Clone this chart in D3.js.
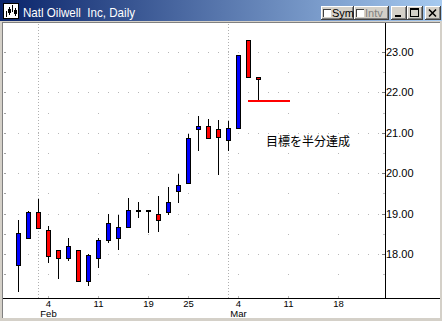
<!DOCTYPE html>
<html><head><meta charset="utf-8">
<script src="https://cdn.jsdelivr.net/npm/d3@7"></script>
<style>html,body{margin:0;padding:0;background:#D4D0C8;overflow:hidden}svg{display:block}</style>
</head><body>
<svg id="c" width="442" height="321"></svg>
<script>
// ---- data ----
const dates = ["2002-01-30","2002-01-31","2002-02-01","2002-02-04","2002-02-05","2002-02-06","2002-02-07","2002-02-08",
  "2002-02-11","2002-02-12","2002-02-13","2002-02-14","2002-02-15","2002-02-19","2002-02-20","2002-02-21","2002-02-22",
  "2002-02-25","2002-02-26","2002-02-27","2002-02-28","2002-03-01","2002-03-04","2002-03-05","2002-03-06"];
const futureDays = ["2002-03-07","2002-03-08","2002-03-11","2002-03-12","2002-03-13","2002-03-14","2002-03-15",
  "2002-03-18","2002-03-19","2002-03-20","2002-03-21","2002-03-22"];
const openP  = [17.74,18.39,19.03,18.59,18.09,17.89,18.09,17.34,17.89,18.34,18.39,18.66,19.08,19.08,18.98,19.03,19.55,19.75,21.09,21.18,21.09,20.81,21.11,23.29,22.37];
const highP  = [18.84,19.06,19.36,18.69,18.09,18.39,18.09,18.00,18.39,18.98,18.97,19.38,19.28,19.10,19.44,19.65,19.98,20.96,21.41,21.33,21.31,21.28,22.92,23.29,22.37];
const lowP   = [17.09,18.39,18.64,17.81,17.41,17.84,17.32,17.24,17.69,18.29,18.12,18.66,18.92,18.54,18.58,18.98,19.28,19.75,20.58,20.86,19.99,20.58,21.11,22.37,21.84];
const closeP = [18.51,19.03,18.64,17.94,17.89,18.21,17.34,17.98,18.34,18.76,18.66,19.08,19.10,19.06,18.83,19.28,19.70,20.86,21.18,20.86,20.89,21.11,22.92,22.37,22.32];
const weekTicks = ["2002-02-04","2002-02-11","2002-02-19","2002-02-25","2002-03-04","2002-03-11","2002-03-18"];
const weekLabels = ["4","11","19","25","4","11","18"];
const monthTicks = ["2002-02-04","2002-03-04"];
const monthLabels = ["Feb","Mar"];
const monthStarts = ["2002-02-01","2002-03-01"];
const yTicks = [18,19,20,21,22,23];
const yHalf = [17.5,18.5,19.5,20.5,21.5,22.5];
const target = {start:"2002-03-05", end:"2002-03-11", price:21.79};
const note = "目標を半分達成";
const title = "Natl Oilwell  Inc, Daily";

// ---- setup ----
const svg = d3.select("#c");
const allDays = dates.concat(futureDays);
const x = d3.scalePoint().domain(allDays).range([18, 378]);
const y = d3.scaleLinear().domain([18, 23]).range([254, 52]);
const PL = 3, PR = 440, PT = 23, PB = 298, AX = 385;
const FONT = "Liberation Sans, Arial, sans-serif";

// window chrome
svg.append("rect").attr("width",442).attr("height",321).attr("fill","#D4D0C8");
const grad = svg.append("defs").append("linearGradient").attr("id","tb");
grad.append("stop").attr("offset","0").attr("stop-color","#0A246A");
grad.append("stop").attr("offset","1").attr("stop-color","#A6CAF0");
svg.append("rect").attr("x",0).attr("y",0).attr("width",442).attr("height",21).attr("fill","url(#tb)");
svg.append("rect").attr("x",PL).attr("y",PT).attr("width",PR-PL).attr("height",318-PT).attr("fill","#fff");
svg.append("rect").attr("x",2).attr("y",22).attr("width",PR-2).attr("height",1).attr("fill","#808080");
svg.append("rect").attr("x",2).attr("y",22).attr("width",1).attr("height",296).attr("fill","#808080");

// title icon
const ic = svg.append("g").attr("shape-rendering","crispEdges");
ic.append("rect").attr("x",3.5).attr("y",3.5).attr("width",15).attr("height",15).attr("fill","#fff").attr("stroke","#000");
[[6,11,17],[9,7,15],[12,5,12],[15,8,16]].forEach(([cx,a,b])=>{
  ic.append("line").attr("x1",cx+0.5).attr("x2",cx+0.5).attr("y1",a).attr("y2",b).attr("stroke","#000").attr("stroke-width",1);
});
ic.append("rect").attr("x",8).attr("y",9).attr("width",3).attr("height",4).attr("fill","#000");
ic.append("rect").attr("x",14).attr("y",10).attr("width",3).attr("height",4).attr("fill","#000");
svg.append("text").attr("x",23).attr("y",16.5).attr("fill","#fff")
  .attr("font-family",FONT).attr("font-size",13)
  .attr("textLength",112).attr("lengthAdjust","spacingAndGlyphs")
  .style("white-space","pre").text(title);

// title buttons
function button(bx, bw){
  const g = svg.append("g").attr("shape-rendering","crispEdges");
  const by = 6, bh = 14;
  g.append("rect").attr("x",bx).attr("y",by).attr("width",bw).attr("height",bh).attr("fill","#D4D0C8");
  g.append("rect").attr("x",bx).attr("y",by).attr("width",bw).attr("height",1).attr("fill","#fff");
  g.append("rect").attr("x",bx).attr("y",by).attr("width",1).attr("height",bh).attr("fill","#fff");
  g.append("rect").attr("x",bx).attr("y",by+bh-1).attr("width",bw).attr("height",1).attr("fill","#404040");
  g.append("rect").attr("x",bx+bw-1).attr("y",by).attr("width",1).attr("height",bh).attr("fill","#404040");
  g.append("rect").attr("x",bx+1).attr("y",by+bh-2).attr("width",bw-2).attr("height",1).attr("fill","#808080");
  g.append("rect").attr("x",bx+bw-2).attr("y",by+1).attr("width",1).attr("height",bh-2).attr("fill","#808080");
  return g;
}
function checkBtn(bx,bw,label,col){
  const g = button(bx,bw);
  g.append("rect").attr("x",bx+2).attr("y",9).attr("width",8).attr("height",8).attr("fill","#fff");
  g.append("rect").attr("x",bx+2).attr("y",9).attr("width",8).attr("height",1).attr("fill","#404040");
  g.append("rect").attr("x",bx+2).attr("y",9).attr("width",1).attr("height",8).attr("fill","#404040");
  g.append("text").attr("x",bx+11).attr("y",17).attr("fill",col)
    .attr("font-family",FONT).attr("font-size",11).text(label);
}
checkBtn(321,33,"Sym","#000");
checkBtn(354,35,"Intv","#808080");
const mn = button(391,16);
mn.append("rect").attr("x",395).attr("y",15).attr("width",6).attr("height",2).attr("fill","#000");
const mx = button(407,16);
mx.append("rect").attr("x",410.5).attr("y",8.5).attr("width",8).attr("height",8).attr("fill","none").attr("stroke","#000");
mx.append("rect").attr("x",411).attr("y",9).attr("width",8).attr("height",1).attr("fill","#000");
const cl = button(425,16);
cl.append("path").attr("d","M429,9.5L436,16.5M436,9.5L429,16.5").attr("stroke","#000").attr("stroke-width",1.6)
  .attr("shape-rendering","auto");

// ---- grid ----
const grid = svg.append("g").attr("shape-rendering","crispEdges").attr("fill","#b8b8b8");
yTicks.forEach(v=>{
  allDays.forEach(d=>{
    grid.append("rect").attr("x",x(d)).attr("y",Math.round(y(v))).attr("width",1).attr("height",1);
  });
});
yHalf.forEach(v=>{
  weekTicks.forEach(d=>{
    grid.append("rect").attr("x",x(d)).attr("y",Math.round(y(v))).attr("width",1).attr("height",1);
  });
});
yTicks.concat(yHalf).forEach(v=>{
  grid.append("rect").attr("x",4).attr("y",Math.round(y(v))).attr("width",2).attr("height",1).attr("fill","#a0a0a0");
});
monthStarts.forEach(d=>{
  svg.append("line").attr("x1",x(d)+0.5).attr("x2",x(d)+0.5).attr("y1",PT+1).attr("y2",PB)
    .attr("stroke","#b0b0b0").attr("stroke-dasharray","1,2").attr("shape-rendering","crispEdges");
});

// ---- candles ----
const candles = dates.map((d,i)=>({d, o:openP[i], h:highP[i], l:lowP[i], c:closeP[i]}));
const gC = svg.append("g").attr("shape-rendering","crispEdges");
gC.selectAll("line").data(candles).join("line")
  .attr("x1", d=>x(d.d)+0.5).attr("x2", d=>x(d.d)+0.5)
  .attr("y1", d=>Math.round(y(d.h))).attr("y2", d=>Math.round(y(d.l))+1)
  .attr("stroke","#000");
gC.selectAll("rect").data(candles).join("rect")
  .attr("x", d=>x(d.d)-1.5).attr("width",4)
  .attr("y", d=>Math.round(y(Math.max(d.o,d.c)))+0.5)
  .attr("height", d=>Math.max(1, Math.round(y(Math.min(d.o,d.c))) - Math.round(y(Math.max(d.o,d.c)))))
  .attr("fill", d=> d.c>=d.o ? "#0000FF" : "#FF0000").attr("stroke","#000");

// target line + note
svg.append("line").attr("x1",x(target.start)).attr("x2",x(target.end)+2)
  .attr("y1",Math.round(y(target.price))).attr("y2",Math.round(y(target.price)))
  .attr("stroke","#FF0000").attr("stroke-width",2).attr("shape-rendering","crispEdges");
svg.append("text").attr("x",266).attr("y",140.5).attr("dominant-baseline","central")
  .attr("font-family","Noto Sans CJK JP, sans-serif").attr("font-size",12).attr("fill","#000").text(note);

// ---- axes ----
const yAx = svg.append("g").attr("transform",`translate(${AX},0)`)
  .call(d3.axisRight(y).tickValues(yTicks).tickSizeInner(-3).tickSizeOuter(0).tickPadding(1).tickFormat(d3.format(".2f")));
yAx.select(".domain").remove();
yAx.selectAll("line").attr("stroke","#808080").attr("shape-rendering","crispEdges");
yAx.selectAll("text").attr("font-family",FONT).attr("font-size",11).attr("fill","#000");
const yMin = svg.append("g").attr("transform",`translate(${AX},0)`)
  .call(d3.axisRight(y).tickValues(yHalf).tickSize(-2).tickFormat(""));
yMin.select(".domain").remove();
yMin.selectAll("line").attr("stroke","#c0c0c0").attr("shape-rendering","crispEdges");

const xAx = svg.append("g").attr("transform",`translate(0,${PB})`)
  .call(d3.axisBottom(x).tickValues(weekTicks).tickSizeInner(-2).tickSizeOuter(0).tickPadding(2)
    .tickFormat((d,i)=>weekLabels[i]));
xAx.select(".domain").remove();
xAx.selectAll("line").attr("stroke","#b8b8b8").attr("shape-rendering","crispEdges");
xAx.selectAll("text").attr("font-family",FONT).attr("font-size",9.5).attr("fill","#000");
// month names as a second line of the same tick label
xAx.selectAll(".tick text").each(function(d,i){
  const mi = monthTicks.indexOf(d);
  if (mi < 0) return;
  const t = d3.select(this);
  const first = weekLabels[i];
  t.text(null);
  t.append("tspan").attr("x",0).text(first);
  t.append("tspan").attr("x",0).attr("dy","10.7").text(monthLabels[mi]);
});

// axis lines
svg.append("line").attr("x1",PL).attr("x2",PR).attr("y1",PB+0.5).attr("y2",PB+0.5)
  .attr("stroke","#000").attr("shape-rendering","crispEdges");
svg.append("line").attr("x1",AX+0.5).attr("x2",AX+0.5).attr("y1",PT).attr("y2",PB)
  .attr("stroke","#000").attr("shape-rendering","crispEdges");
</script>
</body></html>
